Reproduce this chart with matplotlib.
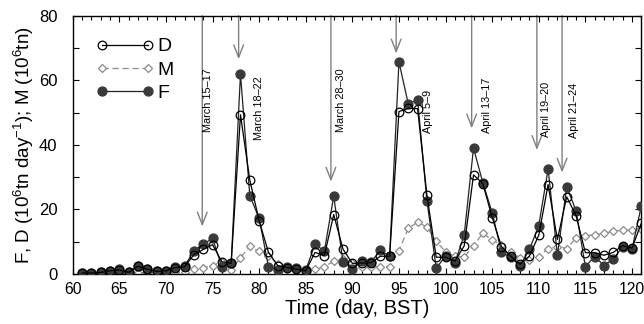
import matplotlib
matplotlib.use("Agg")
import matplotlib.pyplot as plt
from matplotlib.ticker import MultipleLocator

plt.rcParams['font.family'] = ['Liberation Sans', 'DejaVu Sans']
plt.rcParams['mathtext.fontset'] = 'custom'
plt.rcParams['mathtext.rm'] = 'Liberation Sans'
plt.rcParams['mathtext.it'] = 'Liberation Sans:italic'
plt.rcParams['mathtext.default'] = 'regular'

days = list(range(61, 122))
F = [0.3, 0.3, 0.5, 1.0, 1.4, 0.5, 2.6, 1.5, 0.8, 1.0,
     2.2, 2.4, 7.2, 9.3, 11.0, 2.3, 3.3, 62.0, 24.2, 17.3,
     2.3, 1.1, 2.3, 1.8, 1.2, 9.2, 7.1, 24.1, 3.7, 1.5,
     4.0, 3.7, 7.3, 5.5, 65.7, 52.7, 54.0, 22.7, 1.8, 5.6,
     3.4, 12.1, 39.0, 28.3, 19.0, 6.7, 5.2, 2.5, 7.6, 15.0,
     32.5, 5.9, 27.0, 19.6, 2.3, 5.4, 2.6, 4.7, 8.5, 7.7,
     21.0]
D = [0.3, 0.3, 0.5, 1.0, 1.3, 0.5, 2.4, 1.5, 0.8, 1.0,
     2.0, 2.2, 6.0, 7.6, 9.1, 3.8, 3.3, 49.3, 29.1, 16.5,
     6.7, 2.6, 2.0, 1.5, 1.0, 6.7, 5.7, 18.4, 7.7, 3.3,
     3.4, 3.5, 5.5, 5.5, 50.3, 51.3, 51.2, 24.4, 5.2, 5.2,
     4.0, 8.7, 30.7, 28.0, 17.5, 8.5, 5.5, 3.0, 5.6, 12.0,
     27.7, 10.7, 23.9, 18.1, 6.6, 6.6, 5.8, 6.7, 8.8, 8.0,
     15.7]
M = [0.2, 0.2, 0.2, 0.2, 0.3, 0.3, 0.4, 0.4, 0.4, 0.4,
     0.5, 0.6, 1.4, 2.0, 2.6, 3.8, 1.3, 5.0, 8.6, 7.0,
     5.6, 3.2, 1.6, 1.2, 0.9, 1.5, 2.3, 3.9, 4.5, 3.4,
     2.3, 2.3, 2.3, 2.3, 7.2, 14.2, 16.0, 14.6, 10.1, 6.9,
     5.5, 5.2, 8.8, 12.6, 10.5, 9.0, 6.9, 5.1, 4.3, 5.4,
     7.9, 8.5, 7.9, 11.1, 11.9, 12.1, 12.7, 13.2, 13.6, 13.6,
     14.0]

event_labels = ["March 15\u201317", "March 18\u201322", "March 28\u201330",
                "April 5\u20139", "April 13\u201317", "April 19\u201320",
                "April 21\u201324"]
arrow_days = [73.9, 77.8, 87.7, 94.7, 102.8, 109.8, 112.5]
arrow_tips = [14.7, 66.5, 28.6, 68.3, 45.1, 38.4, 31.4]
label_days = [74.5, 80.0, 88.8, 98.1, 104.5, 110.8, 113.8]
label_bottoms = [44.0, 41.5, 44.0, 43.6, 43.6, 42.4, 42.0]

fig = plt.figure(figsize=(6.44, 3.24), dpi=100)
ax = fig.add_axes([0.1129, 0.1543, 0.8829, 0.7972])

ax.plot(days, M, color='#8a8a8a', lw=0.9, ls=(0, (5, 3)), marker='D',
        ms=4.2, mfc='white', mec='#8a8a8a', mew=0.9, label='M', zorder=2)
ax.plot(days, F, color='#222222', lw=0.9, marker='o', ms=6.4,
        mfc='#3a3a3a', mec='#3a3a3a', label='F', zorder=3)
ax.plot(days, D, color='black', lw=0.9, marker='o', ms=6.2,
        mfc='none', mec='black', mew=0.9, label='D', zorder=4)

for lab, xa, tip, xl, yb in zip(event_labels, arrow_days, arrow_tips,
                                label_days, label_bottoms):
    ax.annotate('', xy=(xa, tip), xytext=(xa, 80),
                arrowprops=dict(arrowstyle='->,head_length=0.9,head_width=0.35',
                                color='#808080', lw=1.0, shrinkA=0, shrinkB=0,
                                mutation_scale=10), zorder=1)
    ax.text(xl, yb, lab, rotation=90, ha='center', va='bottom',
            fontsize=7.8, color='black', zorder=5)

ax.set_xlim(60, 121)
ax.set_ylim(0, 80)
ax.xaxis.set_major_locator(MultipleLocator(5))
ax.xaxis.set_minor_locator(MultipleLocator(1))
ax.yaxis.set_major_locator(MultipleLocator(20))
ax.yaxis.set_minor_locator(MultipleLocator(10))
ax.tick_params(which='both', direction='in', top=True, right=True,
               labelsize=11.3)
ax.tick_params(axis='y', labelsize=12)
ax.tick_params(which='major', length=4, width=0.8)
ax.tick_params(which='minor', length=3, width=0.8)
ax.tick_params(axis='y', which='minor', length=4)
ax.tick_params(axis='x', which='major', pad=5.5)
ax.tick_params(axis='y', which='major', pad=11)
for s in ax.spines.values():
    s.set_linewidth(1.0)

ax.set_xlabel('Time (day, BST)', fontsize=14.5, labelpad=1.5)
ax.set_ylabel('F, D (10$^{6}$tn day$^{-1}$); M (10$^{6}$tn)', fontsize=13.5)
ax.yaxis.set_label_coords(-0.065, 0.5)

handles, labels = ax.get_legend_handles_labels()
order = [2, 0, 1]
ax.legend([handles[i] for i in order], [labels[i] for i in order],
          loc='upper left', bbox_to_anchor=(0.02, 0.96), frameon=False,
          numpoints=2, handlelength=3.0, fontsize=14, labelspacing=0.3,
          handletextpad=0.15, borderaxespad=0.2)

fig.savefig('out.png', dpi=100)
